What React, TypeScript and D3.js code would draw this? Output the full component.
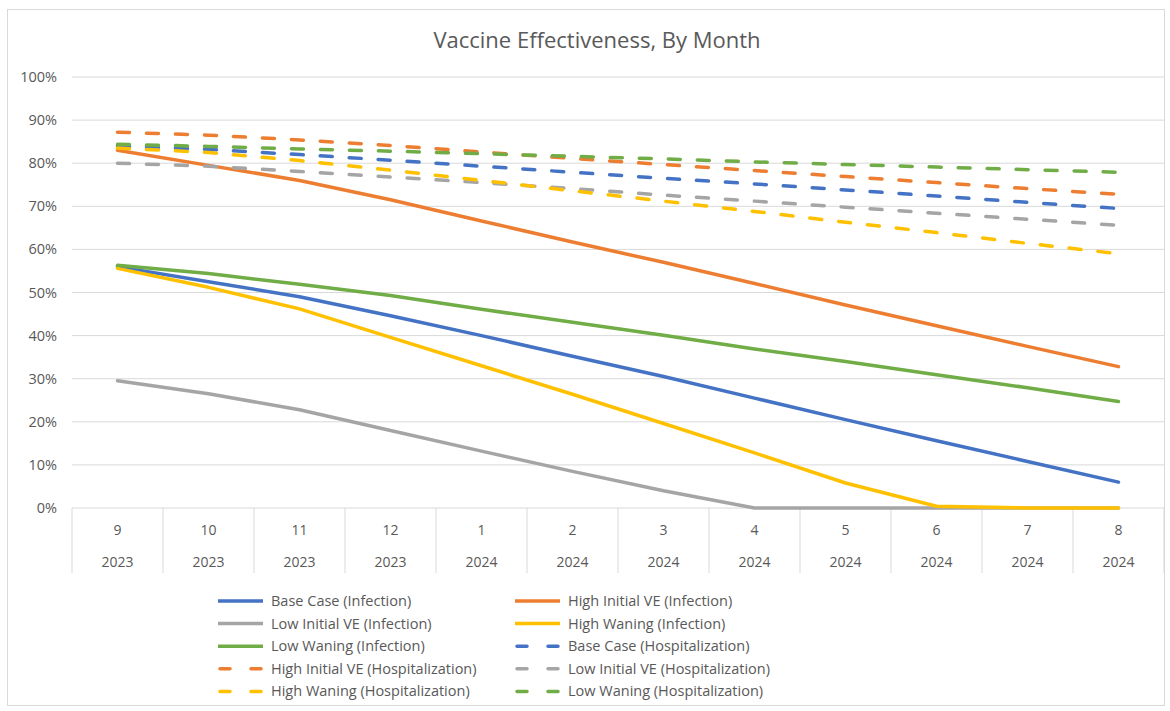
import React from 'react';
import * as d3 from 'd3';

const months = ['9', '10', '11', '12', '1', '2', '3', '4', '5', '6', '7', '8'];
const years = ['2023', '2023', '2023', '2023', '2024', '2024', '2024', '2024', '2024', '2024', '2024', '2024'];
const yTicks = [0, 0.1, 0.2, 0.3, 0.4, 0.5, 0.6, 0.7, 0.8, 0.9, 1];

const baseInf = [56, 52.5, 49, 44.6, 40, 35.2, 30.5, 25.5, 20.5, 15.6, 10.8, 6];
const highInitInf = [83, 79.5, 76, 71.5, 66.6, 61.7, 57, 52.1, 47.1, 42.3, 37.5, 32.8];
const lowInitInf = [29.5, 26.5, 22.8, 18, 13.2, 8.5, 4, 0, 0, 0, 0, 0];
const highWanInf = [55.6, 51.2, 46.2, 39.6, 33, 26.4, 19.6, 12.8, 5.8, 0.4, 0, 0];
const lowWanInf = [56.3, 54.4, 51.9, 49.3, 46.1, 43.1, 40.1, 36.9, 34, 30.9, 27.9, 24.7];
const baseHosp = [84, 83.2, 82, 80.7, 79.3, 77.9, 76.5, 75.2, 73.8, 72.4, 70.9, 69.5];
const highInitHosp = [87.2, 86.5, 85.4, 84.1, 82.6, 81.1, 79.7, 78.3, 76.9, 75.5, 74.1, 72.8];
const lowInitHosp = [80, 79.3, 78.1, 76.8, 75.5, 74.1, 72.6, 71.2, 69.8, 68.4, 67, 65.6];
const highWanHosp = [83.5, 82.5, 80.6, 78.4, 76, 73.6, 71.2, 68.8, 66.3, 63.9, 61.4, 59];
const lowWanHosp = [84.4, 83.9, 83.3, 82.8, 82.2, 81.6, 81, 80.3, 79.7, 79.1, 78.5, 77.9];

const series = [
  { name: 'Base Case (Infection)', color: '#4472C4', dashed: false, values: baseInf },
  { name: 'High Initial VE (Infection)', color: '#ED7D31', dashed: false, values: highInitInf },
  { name: 'Low Initial VE (Infection)', color: '#A5A5A5', dashed: false, values: lowInitInf },
  { name: 'High Waning (Infection)', color: '#FFC000', dashed: false, values: highWanInf },
  { name: 'Low Waning (Infection)', color: '#70AD47', dashed: false, values: lowWanInf },
  { name: 'Base Case (Hospitalization)', color: '#4472C4', dashed: true, values: baseHosp },
  { name: 'High Initial VE (Hospitalization)', color: '#ED7D31', dashed: true, values: highInitHosp },
  { name: 'Low Initial VE (Hospitalization)', color: '#A5A5A5', dashed: true, values: lowInitHosp },
  { name: 'High Waning (Hospitalization)', color: '#FFC000', dashed: true, values: highWanHosp },
  { name: 'Low Waning (Hospitalization)', color: '#70AD47', dashed: true, values: lowWanHosp },
];

const W = 1170;
const H = 711;
const M = { left: 72, right: 1164, top: 77, bottom: 508 };
const FONT = 'Open Sans, sans-serif';
const TXT = '#595959';
const GRID = '#D9D9D9';

export default function App() {
  const x = d3.scaleBand<number>().domain(d3.range(months.length)).range([M.left, M.right]).padding(0);
  const cx = (i: number) => (x(i) ?? 0) + x.bandwidth() / 2;
  const y = d3.scaleLinear().domain([0, 1]).range([M.bottom, M.top]);
  const line = d3.line<number>().x((_, i) => cx(i)).y(v => y(v / 100));
  const fmt = d3.format('.0%');

  const legendX = [218, 515];
  const legendY0 = 601;
  const legendDy = 22.6;

  return (
    <div style={{ position: 'absolute', left: 0, top: 0 }}>
      <svg width={W} height={H} style={{ display: 'block', background: '#fff' }}>
        <rect x={7.5} y={9.5} width={1157} height={696} fill="#fff" stroke={GRID} />
        <text x={597} y={48} textAnchor="middle" fill={TXT} fontFamily={FONT} fontSize={22}>
          Vaccine Effectiveness, By Month
        </text>

        {/* gridlines + y labels */}
        {yTicks.map(t => (
          <g key={t}>
            <line x1={M.left} x2={M.right} y1={y(t)} y2={y(t)} stroke={GRID} strokeWidth={1} />
            <text x={57} y={y(t) + 5} textAnchor="end" fill={TXT} fontFamily={FONT} fontSize={14.5}>
              {fmt(t)}
            </text>
          </g>
        ))}

        {/* category axis */}
        {d3.range(months.length + 1).map(i => {
          const xx = i < months.length ? (x(i) ?? 0) : M.right;
          return <line key={i} x1={xx} x2={xx} y1={M.bottom} y2={573} stroke={GRID} strokeWidth={1} />;
        })}
        {months.map((m, i) => (
          <g key={i}>
            <text x={cx(i)} y={535} textAnchor="middle" fill={TXT} fontFamily={FONT} fontSize={14}>{m}</text>
            <text x={cx(i)} y={567} textAnchor="middle" fill={TXT} fontFamily={FONT} fontSize={14}>{years[i]}</text>
          </g>
        ))}

        {/* series */}
        {series.map(s => (
          <path
            key={s.name}
            d={line(s.values) ?? ''}
            fill="none"
            stroke={s.color}
            strokeWidth={3.5}
            strokeLinecap="round"
            strokeLinejoin="round"
            strokeDasharray={s.dashed ? '12,17' : undefined}
          />
        ))}

        {/* legend */}
        {series.map((s, i) => {
          const lx = legendX[i % 2];
          const ly = legendY0 + Math.floor(i / 2) * legendDy;
          return (
            <g key={s.name}>
              <line
                x1={lx}
                x2={lx + 45}
                y1={ly}
                y2={ly}
                stroke={s.color}
                strokeWidth={3.5}
                strokeLinecap={s.dashed ? 'round' : 'butt'}
                strokeDasharray={s.dashed ? '10,21' : undefined}
                transform={s.dashed ? 'translate(2,0)' : undefined}
              />
              <text x={lx + 53} y={ly + 5} fill={TXT} fontFamily={FONT} fontSize={14.5}>{s.name}</text>
            </g>
          );
        })}
      </svg>
    </div>
  );
}
